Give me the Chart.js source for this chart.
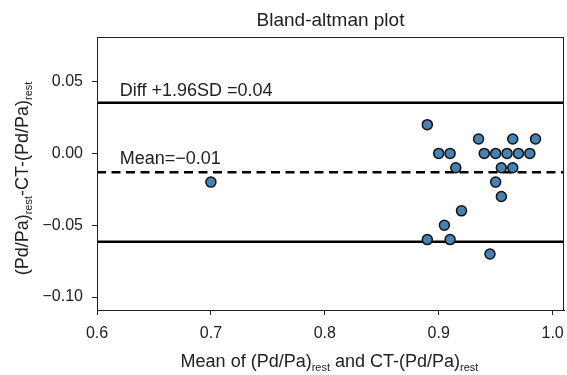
<!DOCTYPE html>
<html>
<head>
<meta charset="utf-8">
<script src="https://cdn.jsdelivr.net/npm/chart.js@4.4.1/dist/chart.umd.min.js"></script>
<style>
  html, body { margin: 0; padding: 0; background: #fff; }
  #wrap { width: 567px; height: 375px; }
</style>
</head>
<body>
<div id="wrap"><canvas id="ba-chart"></canvas></div>
<script>
// Mean of the two measurements (x) and their difference (y), one pair per patient
const meanValues = [0.70, 0.89, 0.89, 0.90, 0.905, 0.91, 0.91, 0.915, 0.92, 0.935, 0.94,
                    0.945, 0.95, 0.95, 0.955, 0.955, 0.96, 0.965, 0.965, 0.97, 0.98, 0.985];
const diffValues = [-0.02, 0.02, -0.06, 0.00, -0.05, 0.00, -0.06, -0.01, -0.04, 0.01, 0.00,
                    -0.07, 0.00, -0.02, -0.01, -0.03, 0.00, 0.01, -0.01, 0.00, 0.00, 0.01];

// Bias and limits of agreement
const meanDiff = -0.0132;
const upperLimit = 0.0353;
const lowerLimit = -0.0615;

// Axis ranges and ticks
const xRange = [0.6, 1.01];
const yRange = [-0.109, 0.081];
const xTicks = [0.6, 0.7, 0.8, 0.9, 1.0];
const yTicks = [-0.10, -0.05, 0.00, 0.05];

const FONT = '"Liberation Sans", Arial, Helvetica, sans-serif';
const INK = '#222';

const fmtSigned = (v, d) => (v < 0 ? '\u2212' : '') + Math.abs(v).toFixed(d);

const points = meanValues.map((x, i) => ({ x: x, y: diffValues[i] }));
const hLine = (y) => [{ x: xRange[0], y: y }, { x: xRange[1], y: y }];

// Draws text made of normal and subscript parts, centred on (cx, cy baseline)
function drawRich(ctx, parts, cx, cy, size) {
  const subSize = Math.round(size * 0.62);
  let total = 0;
  parts.forEach(p => {
    ctx.font = (p.sub ? subSize : size) + 'px ' + FONT;
    p.w = ctx.measureText(p.t).width;
    total += p.w;
  });
  let x = cx - total / 2;
  ctx.textAlign = 'left';
  ctx.textBaseline = 'alphabetic';
  parts.forEach(p => {
    ctx.font = (p.sub ? subSize : size) + 'px ' + FONT;
    ctx.fillText(p.t, x, p.sub ? cy + size * 0.22 : cy);
    x += p.w;
  });
}

const decorations = {
  id: 'decorations',
  afterDatasetsDraw(chart) {
    const { ctx, chartArea: a, scales } = chart;
    ctx.save();
    // frame around the plotting area
    ctx.strokeStyle = INK;
    ctx.lineWidth = 1;
    ctx.strokeRect(a.left + 0.5, a.top + 0.5, a.right - a.left - 1, a.bottom - a.top);

    // line labels
    ctx.fillStyle = INK;
    ctx.font = '18px ' + FONT;
    ctx.textAlign = 'left';
    ctx.textBaseline = 'alphabetic';
    const tx = scales.x.getPixelForValue(0.62);
    ctx.fillText('Diff +1.96SD =' + upperLimit.toFixed(2), tx, scales.y.getPixelForValue(upperLimit) - 7);
    ctx.fillText('Mean=' + fmtSigned(meanDiff, 2), tx, scales.y.getPixelForValue(meanDiff) - 8);

    // title
    ctx.textAlign = 'center';
    ctx.font = '19px ' + FONT;
    ctx.fillText('Bland-altman plot', (a.left + a.right) / 2, 26);

    // x axis title
    drawRich(ctx, [
      { t: 'Mean of (Pd/Pa)' }, { t: 'rest', sub: true },
      { t: ' and CT-(Pd/Pa)' }, { t: 'rest', sub: true }
    ], (a.left + a.right) / 2 - 1, 367, 18);

    // y axis title
    ctx.translate(28, (a.top + a.bottom) / 2 + 5);
    ctx.rotate(-Math.PI / 2);
    drawRich(ctx, [
      { t: '(Pd/Pa)' }, { t: 'rest', sub: true },
      { t: '-CT-(Pd/Pa)' }, { t: 'rest', sub: true }
    ], 0, 0, 18);
    ctx.restore();
  }
};

const axisStyle = {
  grid: { drawOnChartArea: false, drawTicks: true, tickLength: 5, color: INK, lineWidth: 1 },
  border: { display: true, color: INK, width: 1 }
};

new Chart(document.getElementById('ba-chart'), {
  type: 'scatter',
  data: {
    datasets: [
      {
        data: points,
        backgroundColor: '#4682b4',
        borderColor: '#111',
        borderWidth: 1.5,
        pointRadius: 5,
        order: 0
      },
      {
        data: hLine(upperLimit), showLine: true, pointRadius: 0,
        borderColor: '#000', borderWidth: 2.5, order: 1
      },
      {
        data: hLine(meanDiff), showLine: true, pointRadius: 0,
        borderColor: '#000', borderWidth: 2.5, borderDash: [9, 5.5], order: 1
      },
      {
        data: hLine(lowerLimit), showLine: true, pointRadius: 0,
        borderColor: '#000', borderWidth: 2.5, order: 1
      }
    ]
  },
  options: {
    responsive: true,
    maintainAspectRatio: false,
    animation: false,
    layout: { autoPadding: false, padding: { top: 37, right: 3, left: 0, bottom: 0 } },
    plugins: { legend: { display: false }, tooltip: { enabled: false } },
    scales: {
      x: {
        type: 'linear',
        min: xRange[0],
        max: xRange[1],
        afterFit: (s) => { s.height = 65; s.paddingLeft = 0; s.paddingRight = 0; },
        afterBuildTicks: (s) => { s.ticks = xTicks.map(v => ({ value: v })); },
        ticks: {
          callback: (v) => v.toFixed(1),
          font: { family: FONT, size: 16 },
          color: INK,
          padding: 9,
          maxRotation: 0
        },
        ...axisStyle
      },
      y: {
        type: 'linear',
        min: yRange[0],
        max: yRange[1],
        afterFit: (s) => { s.width = 97; s.paddingTop = 0; s.paddingBottom = 0; },
        afterBuildTicks: (s) => { s.ticks = yTicks.map(v => ({ value: v })); },
        ticks: {
          callback: (v) => fmtSigned(v, 2),
          font: { family: FONT, size: 16 },
          color: INK,
          padding: 9
        },
        ...axisStyle
      }
    }
  },
  plugins: [decorations]
});
</script>
</body>
</html>
